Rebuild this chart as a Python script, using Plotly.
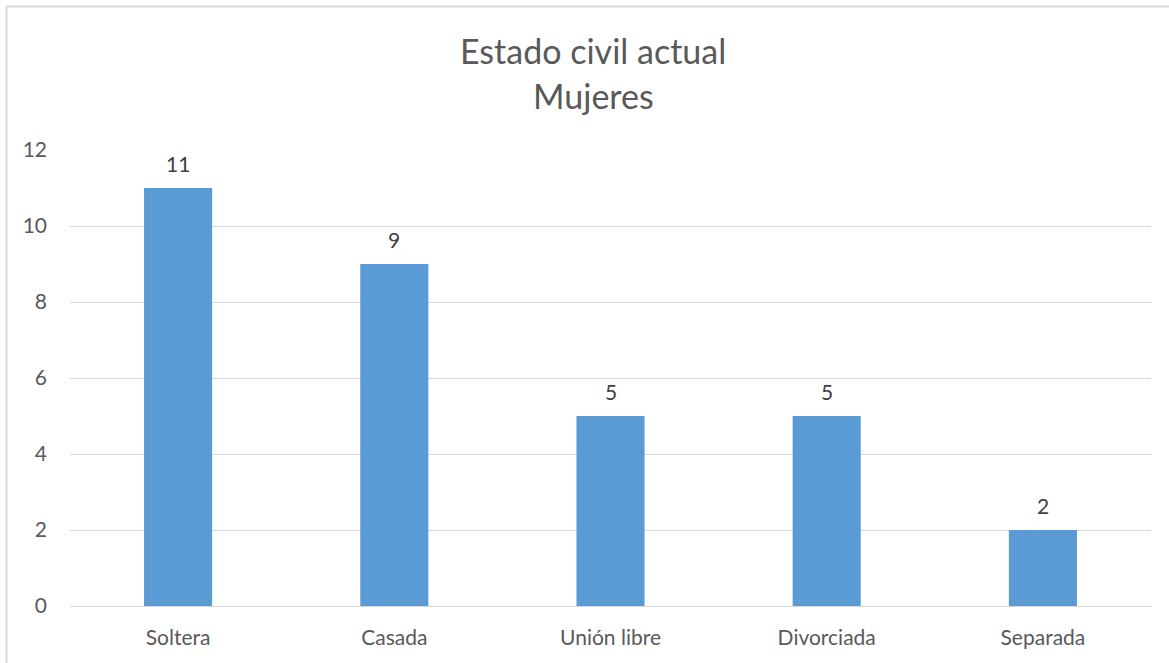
import plotly.graph_objects as go

categories = ["Soltera", "Casada", "Unión libre", "Divorciada", "Separada"]
values = [11, 9, 5, 5, 2]
y_ticks = [0, 2, 4, 6, 8, 10, 12]
title_lines = ["Estado civil actual", "Mujeres"]

FONT = "Lato, Noto Sans, sans-serif"
TXT = "#595959"

fig = go.Figure(go.Bar(
    x=categories, y=values,
    marker=dict(color="#5B9BD5", line=dict(width=0)),
    cliponaxis=False,
))

label_annotations = [
    dict(text=str(v), x=c, y=v, xref="x", yref="y", showarrow=False,
         xanchor="center", yanchor="middle", yshift=25,
         font=dict(family=FONT, size=21, color="#404040"))
    for c, v in zip(categories, values)
]

fig.update_layout(
    width=1169, height=663,
    margin=dict(l=70, r=18, t=150, b=57),
    paper_bgcolor="white", plot_bgcolor="white",
    bargap=0.685, showlegend=False,
    font=dict(family=FONT, color=TXT),
    xaxis=dict(showgrid=False, showline=True, linecolor="#d9d9d9", linewidth=1,
               tickfont=dict(family=FONT, size=21, color=TXT), ticks="",
               ticklabelstandoff=13),
    yaxis=dict(range=[0, 12], tickvals=y_ticks, showgrid=True, gridcolor="#d9d9d9",
               gridwidth=1, zeroline=False, showline=False, ticks="",
               tickfont=dict(family=FONT, size=21, color=TXT), ticklabelstandoff=22),
    annotations=label_annotations + [
        dict(text=title_lines[0], x=(593 - 70) / 1081, xref="paper", y=(606 - 50) / 456, yref="paper",
             xanchor="center", yanchor="middle", showarrow=False,
             font=dict(family=FONT, size=34, color=TXT)),
        dict(text=title_lines[1], x=(593 - 70) / 1081, xref="paper", y=(606 - 96) / 456, yref="paper",
             xanchor="center", yanchor="middle", showarrow=False,
             font=dict(family=FONT, size=34, color=TXT)),
    ],
    shapes=[
        dict(type="line", xref="paper", yref="paper", x0=(6 - 70) / 1081, x1=1.1,
             y0=(606 - 6.5) / 456, y1=(606 - 6.5) / 456, line=dict(color="#d9d9d9", width=2)),
        dict(type="line", xref="paper", yref="paper", x0=(6.5 - 70) / 1081, x1=(6.5 - 70) / 1081,
             y0=-0.2, y1=(606 - 6.5) / 456, line=dict(color="#d9d9d9", width=2)),
    ],
)

fig.write_html("out.html")
